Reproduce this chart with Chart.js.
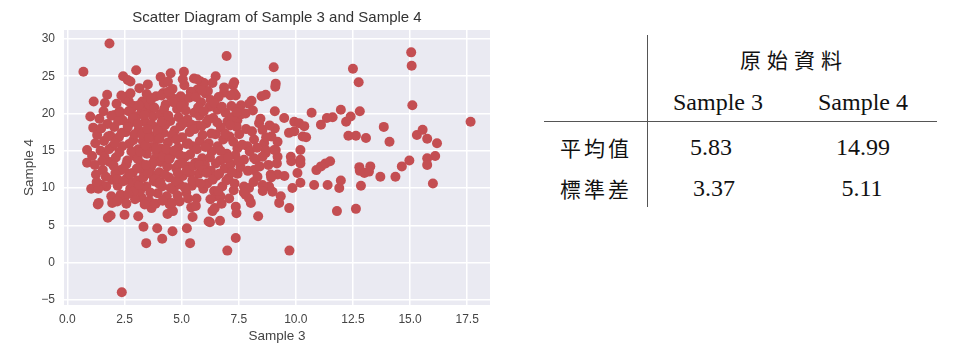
<!DOCTYPE html>
<html>
<head>
<meta charset="utf-8">
<script src="https://cdn.jsdelivr.net/npm/chart.js@4/dist/chart.umd.min.js"></script>
<style>
  body { margin: 0; background: #fff; }
  #wrap { position: relative; width: 980px; height: 356px; overflow: hidden; }
  #chartBox { position: absolute; left: 0; top: 0; width: 500px; height: 356px; }
  .cell { position: absolute; height: 30px; line-height: 30px; white-space: nowrap; color: #111; }
  .num { font-family: "Liberation Serif", serif; font-size: 24px; width: 200px; text-align: center; }
  .cjk { font-family: "Noto Sans CJK TC", sans-serif; font-size: 21px; }
  .rule { position: absolute; background: #555; }
</style>
</head>
<body>
<div id="wrap">
  <div id="chartBox"><canvas id="scatterChart" width="500" height="356"></canvas></div>
  <div id="table"></div>
</div>
<script>
// valores (Sample 3 = eje x, Sample 4 = eje y)
const sample3 = [
  0.70, 1.84, 6.97, 9.03, 15.05, 15.07, 15.10, 17.65, 12.50, 12.75,
  12.80, 10.69, 11.97, 11.61, 11.36, 12.40, 12.20, 13.85, 14.10, 15.30,
  15.55, 15.75, 16.18, 16.10, 15.75, 15.75, 14.97, 14.64, 12.78, 13.26,
  12.30, 12.63, 13.07, 11.10, 9.93, 10.14, 10.37, 9.49, 9.08, 9.12,
  9.10, 8.68, 8.50, 8.06, 7.95, 7.80, 8.39, 9.70, 9.93, 10.30,
  10.45, 9.20, 9.12, 9.20, 9.17, 9.78, 9.80, 10.20, 10.20, 10.20,
  10.90, 11.10, 11.30, 11.50, 10.07, 10.20, 10.80, 11.39, 11.90, 11.97,
  11.80, 12.63, 12.85, 13.70, 14.36, 16.00, 12.80, 13.00, 13.20, 9.85,
  9.71, 9.27, 9.34, 8.98, 8.83, 8.54, 8.03, 7.95, 7.80, 8.35,
  7.37, 7.40, 7.37, 9.72, 7.00, 8.90, 9.20, 9.50, 7.73, 7.95,
  8.25, 8.17, 8.32, 6.50, 6.70, 6.35, 6.24, 6.68, 2.38, 1.33,
  1.77, 2.50, 3.33, 3.45, 3.93, 4.15, 4.60, 5.23, 5.37, 1.04,
  1.92, 3.25, 3.68, 4.33, 4.91, 5.42, 6.18, 2.44, 2.76, 3.01,
  1.15, 1.74, 1.64, 1.00, 1.13, 0.86, 0.86, 1.37, 1.89, 1.96,
  3.10, 5.10, 4.52, 4.08, 4.22, 5.54, 5.83, 5.98, 6.49, 6.86,
  5.69, 6.05, 6.27, 4.22, 4.52, 4.96, 7.25, 7.30, 7.37, 7.60,
  7.47, 7.44, 7.41, 8.54, 9.08, 8.93, 8.17, 8.61, 7.88, 7.44,
  9.05, 8.68, 8.17, 7.73, 8.68, 8.54, 6.56, 7.00, 2.64, 4.40,
  2.64, 2.69, 3.60, 4.18, 4.62, 4.98, 2.06, 2.28, 3.30, 2.79,
  1.25, 1.45, 1.30, 1.60, 1.55, 1.70, 1.85, 1.40, 1.75, 1.95,
  1.62, 1.20, 1.88, 1.50, 1.98, 1.35, 2.05, 2.12, 2.20, 2.25,
  2.30, 2.35, 2.42, 2.48, 2.55, 2.60, 2.62, 2.70, 2.75, 2.78,
  2.85, 2.88, 2.92, 2.95, 2.15, 2.40, 2.68, 2.82, 2.10, 2.58,
  2.96, 2.33, 3.02, 3.05, 3.10, 3.12, 3.18, 3.22, 3.28, 3.30,
  3.35, 3.40, 3.45, 3.48, 3.55, 3.58, 3.62, 3.65, 3.70, 3.75,
  3.78, 3.82, 3.88, 3.90, 3.95, 3.98, 3.15, 3.52, 3.08, 3.38,
  3.72, 3.92, 3.25, 3.60, 4.02, 4.05, 4.10, 4.15, 4.20, 4.25,
  4.30, 4.35, 4.40, 4.45, 4.50, 4.55, 4.60, 4.65, 4.70, 4.75,
  4.80, 4.85, 4.90, 4.95, 4.12, 4.38, 4.62, 4.88, 4.28, 4.72,
  4.48, 4.08, 5.02, 5.05, 5.10, 5.15, 5.20, 5.25, 5.30, 5.35,
  5.40, 5.45, 5.50, 5.55, 5.60, 5.65, 5.70, 5.75, 5.80, 5.85,
  5.90, 5.95, 5.12, 5.48, 5.68, 5.22, 5.78, 5.38, 5.92, 5.58,
  6.02, 6.08, 6.12, 6.18, 6.22, 6.28, 6.32, 6.38, 6.42, 6.48,
  6.52, 6.58, 6.62, 6.68, 6.72, 6.78, 6.82, 6.88, 6.92, 6.98,
  6.15, 6.45, 6.75, 6.35, 7.05, 7.10, 7.15, 7.22, 7.28, 7.35,
  7.45, 7.52, 7.58, 7.65, 7.72, 7.82, 7.90, 7.98, 7.18, 7.62,
  7.08, 7.30, 8.08, 8.15, 8.30, 8.42, 8.55, 8.70, 8.80, 8.92,
  8.12, 8.45, 8.85,
  1.08, 1.22, 1.48, 1.58, 1.68, 1.82, 1.92, 1.28, 1.52, 1.78,
  2.02, 2.08, 2.18, 2.22, 2.28, 2.38, 2.45, 2.52, 2.58, 2.64,
  2.72, 2.80, 2.86, 2.93, 2.18, 2.46, 2.76, 2.90, 2.36, 2.66,
  3.04, 3.09, 3.14, 3.20, 3.26, 3.32, 3.37, 3.42, 3.47, 3.53,
  3.57, 3.63, 3.68, 3.73, 3.80, 3.85, 3.89, 3.94, 3.99, 3.44,
  3.67, 3.13, 3.86, 3.50, 4.03, 4.07, 4.13, 4.18, 4.23, 4.27,
  4.33, 4.37, 4.42, 4.47, 4.52, 4.57, 4.63, 4.67, 4.73, 4.78,
  4.83, 4.87, 4.93, 4.98, 4.17, 4.58, 4.82, 4.43, 5.03, 5.08,
  5.13, 5.18, 5.23, 5.28, 5.33, 5.37, 5.43, 5.47, 5.52, 5.57,
  5.62, 5.67, 5.72, 5.77, 5.82, 5.87, 5.93, 5.97, 5.28, 5.62,
  5.88, 5.05, 6.04, 6.10, 6.16, 6.24, 6.30, 6.36, 6.44, 6.50,
  6.56, 6.64, 6.70, 6.76, 6.84, 6.90, 6.96, 6.26, 6.60, 6.86,
  7.04, 7.12, 7.20, 7.26, 7.32, 7.40, 7.48, 7.14
];
const sample4 = [
  25.6, 29.4, 27.7, 26.2, 28.2, 26.4, 21.1, 18.9, 26.0, 24.2,
  20.3, 20.1, 20.5, 19.5, 19.4, 19.6, 18.9, 18.2, 16.2, 17.1,
  17.8, 16.6, 16.0, 14.3, 14.0, 13.1, 13.7, 12.9, 12.8, 12.9,
  17.0, 17.0, 16.7, 18.5, 18.9, 18.7, 18.3, 19.4, 20.3, 24.0,
  23.6, 22.5, 22.3, 21.7, 21.3, 20.0, 18.7, 17.4, 17.6, 16.9,
  16.8, 16.2, 15.1, 14.2, 13.3, 14.2, 13.6, 13.8, 13.3, 15.1,
  12.4, 12.9, 13.3, 13.6, 12.0, 10.7, 10.4, 10.4, 10.0, 11.0,
  6.9, 7.2, 10.3, 11.5, 11.5, 10.6, 12.3, 12.0, 12.2, 10.0,
  7.3, 8.0, 8.9, 9.5, 10.2, 10.4, 8.0, 8.6, 9.1, 6.2,
  7.5, 6.6, 3.3, 1.6, 1.6, 11.8, 11.8, 11.6, 10.2, 10.0,
  13.8, 12.4, 11.5, 8.9, 8.9, 6.9, 5.4, 5.6, -4.0, 7.8,
  6.0, 6.4, 4.8, 2.6, 4.6, 3.2, 4.2, 4.6, 2.6, 9.9,
  8.9, 8.7, 7.3, 8.4, 8.2, 7.4, 5.5, 25.0, 24.3, 25.8,
  21.6, 22.5, 21.4, 19.6, 18.1, 15.1, 13.4, 8.0, 6.3, 8.0,
  6.2, 25.6, 25.4, 24.9, 24.1, 24.7, 24.3, 24.1, 25.0, 22.8,
  23.2, 22.7, 21.8, 22.7, 22.3, 22.3, 23.8, 22.7, 22.4, 21.1,
  20.6, 19.1, 18.2, 17.8, 18.0, 16.9, 16.5, 16.0, 15.6, 15.3,
  15.1, 14.7, 14.0, 13.8, 15.1, 14.2, 20.5, 18.9, 24.5, 24.3,
  22.3, 21.6, 22.1, 22.7, 22.0, 22.0, 19.8, 20.3, 20.9, 20.5,
  11.8, 15.0, 17.1, 16.3, 12.4, 10.2, 13.5, 19.3, 18.6, 11.1,
  14.2, 13.1, 17.0, 10.4, 15.6, 9.9, 18.2, 14.1, 10.3, 16.8,
  20.0, 12.4, 19.1, 8.7, 17.5, 11.3, 13.7, 15.9, 9.9, 18.8,
  12.0, 16.4, 21.0, 14.3, 21.3, 15.6, 20.3, 10.7, 12.0, 7.9,
  8.5, 9.1, 19.6, 11.0, 15.2, 17.8, 9.6, 13.3, 21.6, 16.3,
  12.1, 18.9, 10.2, 14.6, 20.4, 8.3, 17.0, 12.8, 15.5, 19.6,
  10.9, 13.9, 22.3, 16.5, 9.3, 18.2, 23.4, 23.9, 13.9, 7.8,
  11.7, 14.7, 20.3, 21.1, 12.1, 19.9, 15.3, 10.2, 17.4, 13.7,
  21.2, 8.9, 16.1, 11.4, 19.0, 14.4, 23.3, 9.8, 17.7, 12.7,
  20.6, 15.4, 10.5, 18.3, 22.4, 6.5, 6.9, 13.2, 18.5, 21.7,
  7.8, 13.5, 16.8, 11.6, 21.3, 14.2, 9.4, 19.2, 12.9, 17.5,
  22.9, 10.3, 15.6, 20.1, 13.4, 8.6, 18.4, 11.9, 16.3, 21.5,
  14.0, 9.9, 23.8, 6.1, 24.6, 15.9, 19.7, 12.0, 17.1, 10.8,
  13.1, 18.7, 10.6, 16.0, 20.9, 12.3, 14.9, 19.4, 9.6, 17.2,
  11.6, 15.6, 22.2, 13.7, 18.1, 10.2, 16.5, 12.6, 20.1, 14.6,
  23.0, 7.3, 7.9, 24.1, 11.3, 16.9, 13.2, 19.5, 9.7, 14.4,
  11.9, 17.2, 12.8, 15.8, 9.4, 17.9, 12.3, 14.9, 21.0, 19.9,
  8.6, 24.2, 17.6, 10.8, 15.4, 12.9, 9.6, 16.8, 13.1, 11.4,
  20.4, 19.3, 18.4,
  14.3, 16.0, 18.0, 20.3, 11.5, 15.2, 19.7, 10.8, 13.6, 16.9,
  13.0, 16.0, 11.2, 19.0, 14.8, 17.4, 10.9, 21.9, 13.2, 18.2,
  11.9, 14.9, 19.4, 17.2, 8.2, 12.6, 22.7, 9.6, 22.4, 9.2,
  12.6, 18.6, 10.4, 14.8, 17.2, 11.4, 19.8, 15.7, 22.6, 12.0,
  16.7, 9.4, 18.5, 13.3, 20.8, 11.2, 15.3, 17.7, 10.6, 13.1,
  21.9, 21.1, 7.9, 17.9, 16.6, 10.8, 18.9, 14.2, 20.6, 11.8,
  15.2, 12.9, 19.7, 13.9, 10.0, 17.1, 21.5, 15.0, 10.9, 16.5,
  12.0, 19.5, 14.4, 21.0, 8.3, 8.0, 9.0, 22.9, 13.3, 18.7,
  10.1, 20.4, 12.4, 16.0, 22.1, 14.5, 18.5, 11.0, 13.0, 17.9,
  22.2, 15.2, 20.8, 13.1, 10.6, 18.3, 12.4, 20.3, 8.6, 7.6,
  23.1, 24.6, 15.5, 12.0, 19.2, 14.1, 17.3, 11.1, 21.4, 13.3,
  18.8, 11.9, 15.0, 20.9, 13.9, 17.3, 11.0, 8.5, 9.6, 23.5,
  14.1, 18.4, 12.1, 16.2, 10.6, 20.2, 13.6, 22.4
];

const xTicks = [0, 2.5, 5, 7.5, 10, 12.5, 15, 17.5];
const yTicks = [-5, 0, 5, 10, 15, 20, 25, 30];

// tabla de la derecha
const tableGroup = '原始資料';
const tableCols = ['Sample 3', 'Sample 4'];
const tableRows = ['平均值', '標準差'];
const tableMeans = ['5.83', '14.99'];
const tableStds = ['3.37', '5.11'];

const fondoPlot = {
    id: 'fondoPlot',
    beforeDraw(chart) {
        const {ctx, chartArea: a} = chart;
        ctx.save();
        ctx.fillStyle = '#EAEAF2';
        ctx.fillRect(a.left, a.top, a.right - a.left, a.bottom - a.top);
        ctx.restore();
    }
};

function renderScatter() {
    const ctx = document.getElementById('scatterChart').getContext('2d');
    const puntos = sample3.map((x, i) => ({x: x, y: sample4[i]}));

    new Chart(ctx, {
        type: 'scatter',
        data: {
            datasets: [{
                label: 'Sample 3 vs Sample 4',
                data: puntos,
                backgroundColor: '#C44E52',
                borderWidth: 0,
                pointRadius: 5
            }]
        },
        options: {
            responsive: false,
            animation: false,
            events: [],
            layout: { padding: { right: 10 } },
            plugins: {
                legend: { display: false },
                tooltip: { enabled: false },
                title: {
                    display: true,
                    text: 'Scatter Diagram of Sample 3 and Sample 4',
                    fullSize: false,
                    color: '#333',
                    font: { family: 'Liberation Sans', size: 15, weight: 'normal' },
                    padding: { top: 9, bottom: 3 }
                }
            },
            scales: {
                x: {
                    type: 'linear',
                    min: -0.15,
                    max: 18.5,
                    afterBuildTicks: s => { s.ticks = xTicks.map(v => ({value: v})); },
                    afterFit: s => { s.height = 51; },
                    grid: { color: '#ffffff', lineWidth: 1.5, drawTicks: false },
                    border: { display: false },
                    ticks: {
                        color: '#444',
                        padding: 7,
                        font: { family: 'Liberation Sans', size: 12 },
                        callback: v => v.toFixed(1)
                    },
                    title: {
                        display: true,
                        text: 'Sample 3',
                        color: '#444',
                        font: { family: 'Liberation Sans', size: 13.5 },
                        padding: { top: 0, bottom: 12 }
                    }
                },
                y: {
                    type: 'linear',
                    min: -5.7,
                    max: 31.2,
                    afterBuildTicks: s => { s.ticks = yTicks.map(v => ({value: v})); },
                    afterFit: s => { s.width = 64; },
                    grid: { color: '#ffffff', lineWidth: 1.5, drawTicks: false },
                    border: { display: false },
                    ticks: {
                        color: '#444',
                        padding: 9,
                        font: { family: 'Liberation Sans', size: 12 },
                        callback: v => (v < 0 ? '\u2212' + Math.abs(v) : String(v))
                    },
                    title: {
                        display: true,
                        text: 'Sample 4',
                        color: '#444',
                        font: { family: 'Liberation Sans', size: 13.5 },
                        padding: { top: 21, bottom: 0 }
                    }
                }
            }
        },
        plugins: [fondoPlot]
    });
}

function celda(texto, clase, cx, cy, extra) {
    const d = document.createElement('div');
    d.className = 'cell ' + clase;
    d.textContent = texto;
    d.style.top = (cy - 15) + 'px';
    if (clase === 'num') d.style.left = (cx - 100) + 'px';
    else d.style.left = cx + 'px';
    if (extra) Object.assign(d.style, extra);
    document.getElementById('table').appendChild(d);
    return d;
}

function linea(left, top, w, h) {
    const d = document.createElement('div');
    d.className = 'rule';
    Object.assign(d.style, {left: left + 'px', top: top + 'px', width: w + 'px', height: h + 'px'});
    document.getElementById('table').appendChild(d);
}

function renderTabla() {
    linea(647, 35, 1, 172);
    linea(544, 121, 393, 1);
    celda(tableGroup, 'cjk', 740, 59, {letterSpacing: '6px'});
    const colX = [718, 863];
    tableCols.forEach((c, i) => celda(c, 'num', colX[i], 102));
    const rowY = [147, 188];
    tableRows.forEach((r, i) => celda(r, 'cjk', 560, rowY[i], {letterSpacing: '3px'}));
    celda(tableMeans[0], 'num', 711, rowY[0]);
    celda(tableMeans[1], 'num', 863, rowY[0]);
    celda(tableStds[0], 'num', 714, rowY[1]);
    celda(tableStds[1], 'num', 862, rowY[1]);
}

document.addEventListener('DOMContentLoaded', () => {
    renderScatter();
    renderTabla();
});
</script>
</body>
</html>
